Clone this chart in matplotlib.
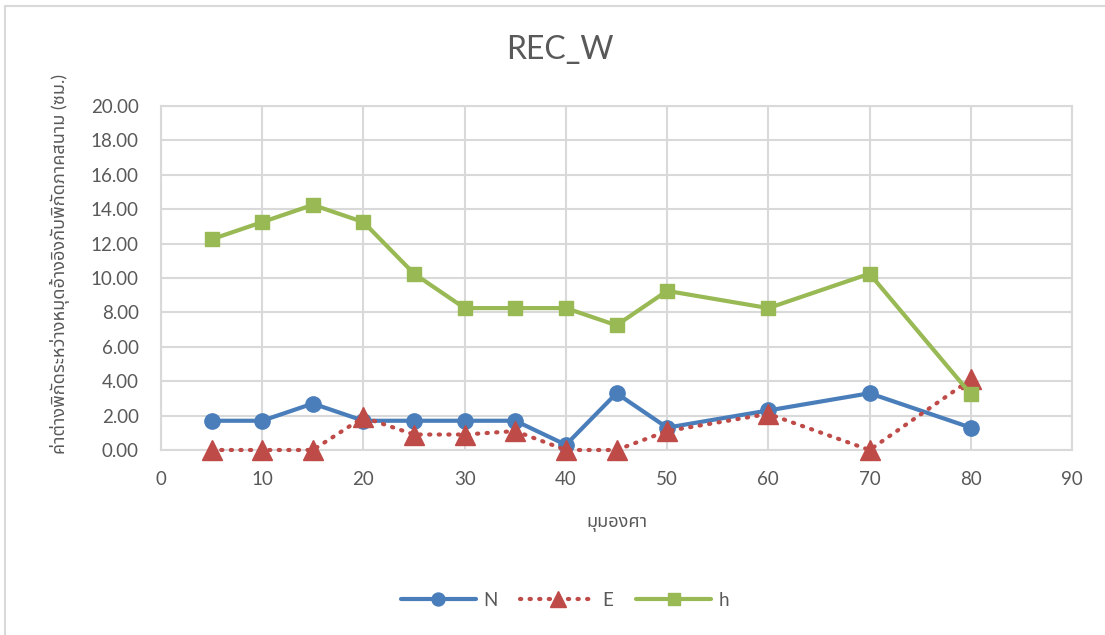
import matplotlib
matplotlib.use("Agg")
import matplotlib.pyplot as plt
from matplotlib.patches import Rectangle
from matplotlib.ticker import FormatStrFormatter, MultipleLocator
from matplotlib import font_manager

# Survey comparison: differences between control-point and field coordinates
angles = [5, 10, 15, 20, 25, 30, 35, 40, 45, 50, 60, 70, 80]
n_diff = [1.7, 1.7, 2.7, 1.7, 1.7, 1.7, 1.7, 0.3, 3.3, 1.3, 2.3, 3.3, 1.3]
e_diff = [0.0, 0.0, 0.0, 1.9, 0.9, 0.9, 1.1, 0.0, 0.0, 1.1, 2.1, 0.0, 4.1]
h_diff = [12.25, 13.25, 14.25, 13.25, 10.25, 8.25, 8.25, 8.25, 7.25, 9.25, 8.25, 10.25, 3.25]

title = "REC_W"
x_label = "มุมองศา"
y_label = "ค่าต่างพิกัดระหว่างหมุดอ้างอิงกับพิกัดภาคสนาม (ซม.)"
series_names = ["N", "E", "h"]

installed = {f.name for f in font_manager.fontManager.ttflist}
thai_candidates = ["Noto Sans Thai", "Noto Sans Thai UI", "Loma", "Garuda", "Norasi",
                   "Tlwg Typo", "Kinnari", "Sawasdee", "Umpush", "Waree", "Laksaman"]
thai_fonts = [f for f in thai_candidates if f in installed]
base_font = "Lato" if "Lato" in installed else "DejaVu Sans"
plt.rcParams["font.family"] = [base_font] + thai_fonts + ["DejaVu Sans"]

TEXT = "#595959"
GRID = "#d9d9d9"
BLUE = "#4a7ebb"
RED = "#be4b48"
GREEN = "#98b954"

fig = plt.figure(figsize=(11.05, 6.35), dpi=100)
fig.patch.set_facecolor("white")

# chart frame
fig.add_artist(Rectangle((5 / 1105, -0.1), 1.2, 1.1 - 6 / 635, transform=fig.transFigure,
                         fill=False, edgecolor=GRID, linewidth=1.5))

ax = fig.add_axes([161 / 1105, 1 - 450 / 635, (1072 - 161) / 1105, (450 - 106) / 635])

ax.plot(angles, n_diff, color=BLUE, linewidth=3, marker="o", markersize=11,
        label=series_names[0], zorder=3, solid_capstyle="round", clip_on=False)
ax.plot(angles, e_diff, color=RED, linewidth=3, linestyle=(0, (0.3, 2.0)),
        dash_capstyle="round", marker="^", markersize=14, label=series_names[1],
        zorder=4, clip_on=False)
ax.plot(angles, h_diff, color=GREEN, linewidth=3, marker="s", markersize=10,
        label=series_names[2], zorder=5, solid_capstyle="round", clip_on=False)

ax.set_xlim(0, 90)
ax.set_ylim(0, 20)
ax.xaxis.set_major_locator(MultipleLocator(10))
ax.yaxis.set_major_locator(MultipleLocator(2))
ax.yaxis.set_major_formatter(FormatStrFormatter("%.2f"))
ax.grid(True, color=GRID, linewidth=1.5)
ax.set_axisbelow(True)
for s in ax.spines.values():
    s.set_color(GRID)
    s.set_linewidth(1.5)
ax.tick_params(length=0, labelsize=13.5, labelcolor=TEXT)
ax.tick_params(axis="y", pad=16)
ax.tick_params(axis="x", pad=15)

fig.text(560 / 1105, 1 - 50 / 635, title, ha="center", va="center", fontsize=23, color=TEXT)
fig.text(617 / 1105, 1 - 524 / 635, x_label, ha="center", va="center", fontsize=13, color=TEXT)
fig.text(60 / 1105, 1 - 264 / 635, y_label, ha="center", va="center", rotation=90,
         fontsize=13, color=TEXT)

leg = fig.legend(loc="center", bbox_to_anchor=(565 / 1105, 1 - 600 / 635), ncol=3,
                 frameon=False, fontsize=13.5, handlelength=4.0, columnspacing=1.2,
                 handletextpad=0.4, labelcolor=TEXT, markerscale=0.85)

fig.savefig("out.png", dpi=100, facecolor="white")
